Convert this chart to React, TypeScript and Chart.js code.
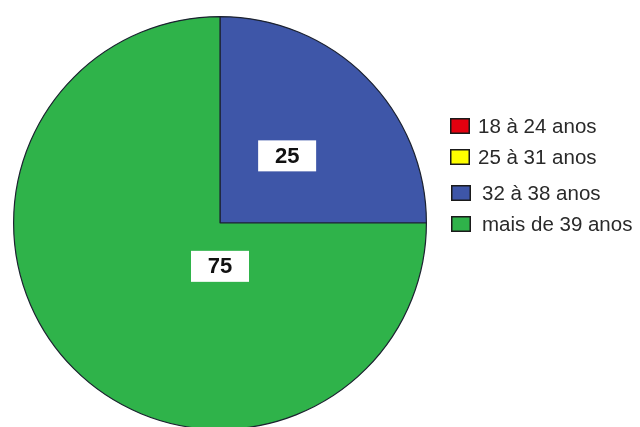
import React, { useEffect, useRef } from "react";
import { Chart, registerables } from "chart.js";

Chart.register(...registerables);

const categories = ["18 à 24 anos", "25 à 31 anos", "32 à 38 anos", "mais de 39 anos"];
const values = [0, 0, 25, 75];
const valueLabels = ["", "", "25", "75"];
const sliceColors = ["#e3000f", "#ffff00", "#3e56a8", "#2fb34a"];

const labelPlugin = {
  id: "boxLabels",
  afterDatasetsDraw(chart: any, _args: any, opts: any) {
    const meta = chart.getDatasetMeta(0);
    const ctx = chart.ctx;
    meta.data.forEach((arc: any, i: number) => {
      const txt = valueLabels[i];
      if (!txt) return;
      const p = arc.getProps(["x", "y", "startAngle", "endAngle", "outerRadius"], true);
      const place = opts.placements[i] || {};
      const ang = place.angle !== undefined ? (place.angle - 90) * Math.PI / 180 : (p.startAngle + p.endAngle) / 2;
      const r = p.outerRadius * (place.frac ?? 0.46);
      const cx = p.x + Math.cos(ang) * r;
      const cy = p.y + Math.sin(ang) * r;
      const w = 58, h = 31;
      ctx.save();
      ctx.fillStyle = "#ffffff";
      ctx.fillRect(cx - w / 2, cy - h / 2, w, h);
      ctx.fillStyle = "#111111";
      ctx.font = "bold 22px 'Liberation Sans', Arial, sans-serif";
      ctx.textAlign = "center";
      ctx.textBaseline = "middle";
      ctx.fillText(txt, cx, cy + 1);
      ctx.restore();
    });
  },
};

const legendPlugin = {
  id: "sideLegend",
  afterDraw(chart: any, _args: any, opts: any) {
    const ctx = chart.ctx;
    const labels = chart.data.labels as string[];
    const colors = chart.data.datasets[0].backgroundColor as string[];
    ctx.save();
    ctx.font = "20.5px 'Liberation Sans', Arial, sans-serif";
    ctx.textBaseline = "middle";
    ctx.textAlign = "left";
    labels.forEach((lab, i) => {
      const second = i >= 2;
      const y = opts.top + i * opts.spacing + (second ? 5 : 0);
      const bx = opts.left + (second ? 1 : 0);
      ctx.fillStyle = colors[i];
      ctx.fillRect(bx, y - 8, 20, 16);
      ctx.strokeStyle = "#1a1a1a";
      ctx.lineWidth = 1.5;
      ctx.strokeRect(bx + 0.75, y - 7.25, 18.5, 14.5);
      ctx.fillStyle = "#2a2a2a";
      ctx.fillText(lab, opts.left + 28 + (second ? 4 : 0), y + 1);
    });
    ctx.restore();
  },
};

export default function App() {
  const ref = useRef<HTMLCanvasElement>(null);
  useEffect(() => {
    if (!ref.current) return;
    const chart = new Chart(ref.current, {
      type: "pie",
      data: {
        labels: categories,
        datasets: [
          {
            data: values,
            backgroundColor: sliceColors,
            borderColor: "#1c2230",
            borderWidth: 1.2,
          },
        ],
      },
      options: {
        animation: false,
        responsive: false,
        maintainAspectRatio: false,
        layout: { padding: { left: 13, right: 213, top: 16, bottom: 10 } },
        plugins: {
          legend: { display: false },
          tooltip: { enabled: false },
          boxLabels: { placements: [null, null, { frac: 0.46 }, { angle: 180, frac: 0.21 }] },
          sideLegend: { left: 450, top: 126, spacing: 31 },
        } as any,
      },
      plugins: [labelPlugin, legendPlugin],
    });
    return () => chart.destroy();
  }, []);
  return (
    <div style={{ position: "fixed", left: 0, top: 0, width: 640, height: 440, background: "#fff" }}>
      <canvas ref={ref} width={640} height={440} style={{ width: 640, height: 440, display: "block" }} />
    </div>
  );
}
